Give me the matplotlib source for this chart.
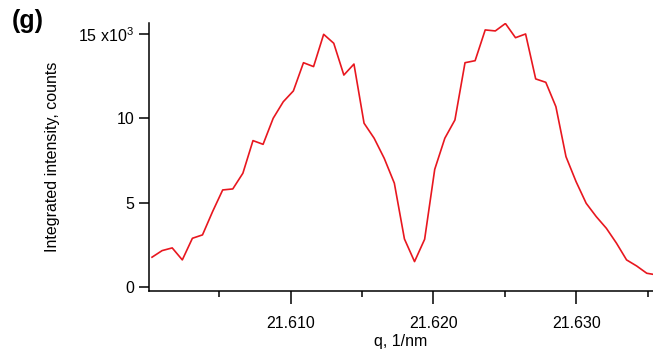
import matplotlib
matplotlib.use("Agg")
import matplotlib.pyplot as plt
import numpy as np
from matplotlib.ticker import FixedLocator, MultipleLocator

# q grid (1/nm): first sample and spacing
q_start = 21.6003
q_step = 0.000707

# integrated intensity, in units of 10^3 counts
counts = [
    1.79, 2.18, 2.34, 1.63, 2.91, 3.11, 4.49, 5.77, 5.83, 6.76,
    8.69, 8.47, 10.01, 10.99, 11.63, 13.30, 13.07, 14.98, 14.45, 12.57,
    13.22, 9.72, 8.83, 7.64, 6.17, 2.87, 1.53, 2.85, 6.99, 8.83,
    9.91, 13.30, 13.42, 15.24, 15.18, 15.62, 14.78, 15.00, 12.34, 12.14,
    10.70, 7.74, 6.26, 4.98, 4.19, 3.50, 2.62, 1.63, 1.27, 0.84,
    0.74,
]

x_ticks = [21.610, 21.620, 21.630]
x_tick_labels = ["21.610", "21.620", "21.630"]
y_ticks = [0, 5, 10, 15]
y_tick_labels = ["0", "5", "10", "15 x10$^{3}$"]

q = q_start + q_step * np.arange(len(counts))

plt.rcParams["font.family"] = ["Liberation Sans", "DejaVu Sans"]
plt.rcParams["mathtext.fontset"] = "custom"
plt.rcParams["mathtext.rm"] = "Liberation Sans"
plt.rcParams["mathtext.it"] = "Liberation Sans"

fig = plt.figure(figsize=(6.53, 3.56), dpi=100)
ax = fig.add_axes([0.2282, 0.1826, 0.7718, 0.7528])

ax.plot(q, counts, color="#e8171f", lw=1.2)

ax.set_xlim(21.60009, 21.63538)
ax.set_ylim(-0.21, 15.65)

ax.xaxis.set_major_locator(FixedLocator(x_ticks))
ax.set_xticklabels(x_tick_labels)
ax.xaxis.set_minor_locator(MultipleLocator(0.005))
ax.yaxis.set_major_locator(FixedLocator(y_ticks))
ax.set_yticklabels(y_tick_labels)

for side in ("top", "right"):
    ax.spines[side].set_visible(False)
for side in ("left", "bottom"):
    ax.spines[side].set_linewidth(1.1)
    ax.spines[side].set_color("black")

ax.tick_params(axis="x", which="major", direction="out", length=9, width=1.1,
               labelsize=11.5, pad=9, colors="black")
ax.tick_params(axis="x", which="minor", direction="out", length=4, width=1.1)
ax.tick_params(axis="y", which="major", direction="out", length=7.5, width=1.1,
               labelsize=11.5, pad=3, colors="black")

ax.set_xlabel("q, 1/nm", fontsize=11.5, labelpad=2)
ax.set_ylabel("Integrated intensity, counts", fontsize=11.5)
ax.yaxis.set_label_coords(-0.177, 0.5)

fig.text(0.018, 0.975, "(g)", fontsize=18, fontweight="bold", va="top", ha="left")

fig.savefig("out.png", dpi=100)
